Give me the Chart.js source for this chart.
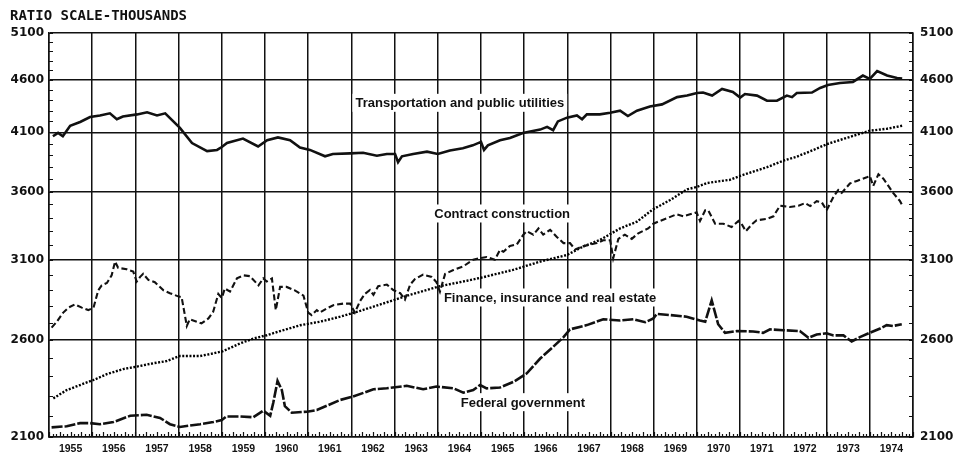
<!DOCTYPE html>
<html><head><meta charset="utf-8">
<script src="https://cdn.jsdelivr.net/npm/chart.js@4.4.1/dist/chart.umd.min.js"></script>
<style>html,body{margin:0;padding:0;background:#fff;}#wrap{width:959px;height:457px;}</style>
</head><body><div id="wrap"><canvas id="c" width="959" height="457"></canvas></div>
<script>
const yearLabels = ['1955','1956','1957','1958','1959','1960','1961','1962','1963','1964','1965','1966','1967','1968','1969','1970','1971','1972','1973','1974'];
const yTicks = [2100,2600,3100,3600,4100,4600,5100];
const yTickLabels = ['2100','2600','3100','3600','4100','4600','5100'];
const titleText = 'RATIO SCALE-THOUSANDS';
const seriesNames = ['Transportation and public utilities','Contract construction','Finance, insurance and real estate','Federal government'];

const transYears = [
 1955.09,1955.21,1955.32,1955.49,1955.72,1955.95,
 1956.18,1956.41,1956.57,1956.71,
 1957.04,1957.27,1957.50,1957.69,
 1958.03,1958.31,1958.66,1958.89,
 1959.00,1959.12,1959.49,1959.84,
 1960.05,1960.30,1960.58,1960.81,
 1961.04,1961.39,1961.57,1961.97,
 1962.27,1962.59,1962.82,
 1963.01,1963.08,1963.17,1963.43,1963.75,
 1964.00,1964.28,1964.58,1964.81,
 1965.00,1965.07,1965.16,1965.44,1965.67,1965.97,
 1966.37,1966.53,1966.67,1966.78,1966.99,
 1967.22,1967.34,1967.45,1967.75,1967.99,
 1968.22,1968.40,1968.61,1968.91,
 1969.19,1969.54,1969.77,
 1970.00,1970.14,1970.35,1970.58,1970.83,
 1971.00,1971.11,1971.39,1971.62,1971.85,
 1972.08,1972.20,1972.31,1972.66,1972.85,
 1973.03,1973.31,1973.61,1973.84,
 1974.00,1974.17,1974.40,1974.63,1974.75];
const transValues = [
 4065,4095,4065,4160,4195,4240,
 4255,4275,4220,4245,
 4265,4285,4255,4275,
 4140,4005,3935,3945,
 3970,4005,4045,3975,
 4030,4055,4030,3965,
 3945,3890,3910,3915,
 3920,3895,3910,
 3910,3840,3890,3910,3930,
 3910,3940,3960,3985,
 4015,3945,3985,4030,4050,4095,
 4125,4150,4120,4200,4235,
 4255,4220,4265,4265,4280,
 4300,4250,4300,4340,
 4360,4430,4445,
 4470,4475,4445,4510,4480,
 4425,4460,4445,4395,4395,
 4445,4430,4470,4475,4520,
 4550,4570,4580,4645,
 4610,4690,4645,4620,4615];

const consYears = [
 1955.06,1955.18,1955.33,1955.45,1955.60,1955.76,1955.91,
 1956.03,1956.14,1956.22,1956.34,1956.45,1956.53,1956.60,1956.80,1956.95,
 1957.03,1957.11,1957.18,1957.30,1957.45,1957.65,1957.80,1957.99,
 1958.07,1958.19,1958.26,1958.42,1958.53,1958.69,1958.80,1958.92,
 1959.00,1959.07,1959.19,1959.35,1959.50,1959.65,1959.85,1959.96,
 1960.04,1960.16,1960.25,1960.35,1960.50,1960.69,1960.89,
 1961.00,1961.08,1961.20,1961.27,1961.43,1961.58,1961.81,1961.97,
 1962.08,1962.20,1962.31,1962.43,1962.51,1962.62,1962.82,1962.97,
 1963.13,1963.24,1963.36,1963.47,1963.66,1963.86,1963.97,
 1964.05,1964.17,1964.36,1964.59,1964.82,1964.98,
 1965.13,1965.32,1965.44,1965.52,1965.67,1965.83,1965.98,
 1966.06,1966.21,1966.33,1966.44,1966.60,1966.75,1966.91,
 1967.06,1967.18,1967.33,1967.52,1967.68,1967.83,1967.99,
 1968.06,1968.18,1968.33,1968.49,1968.64,1968.87,1968.99,
 1969.14,1969.34,1969.53,1969.68,1969.84,1969.99,
 1970.07,1970.19,1970.26,1970.42,1970.61,1970.80,1970.96,
 1971.03,1971.13,1971.27,1971.38,1971.61,1971.77,1971.92,
 1972.00,1972.15,1972.35,1972.50,1972.62,1972.77,1972.89,
 1973.00,1973.16,1973.27,1973.35,1973.54,1973.70,1973.93,
 1974.00,1974.08,1974.20,1974.31,1974.43,1974.54,1974.70,1974.76];
const consValues = [
 2670,2705,2760,2790,2810,2790,2775,
 2790,2898,2930,2945,2995,3087,3045,3035,3020,
 2955,2985,3005,2965,2950,2898,2880,2860,
 2855,2680,2720,2705,2695,2725,2765,2875,
 2850,2910,2890,2975,2995,2990,2930,2975,
 2955,2975,2775,2920,2920,2898,2865,
 2760,2745,2775,2760,2785,2805,2815,2815,
 2760,2830,2875,2900,2870,2925,2935,2900,
 2880,2840,2935,2970,3000,2985,2950,
 2890,3005,3030,3055,3100,3110,
 3118,3100,3167,3155,3195,3205,3275,
 3300,3275,3320,3275,3310,3260,3215,
 3215,3170,3190,3205,3215,3235,3235,
 3110,3245,3275,3245,3285,3320,3355,
 3375,3400,3425,3410,3425,3440,
 3375,3455,3455,3355,3355,3330,3375,
 3355,3300,3350,3380,3390,3410,3490,
 3487,3480,3490,3510,3487,3525,3515,
 3455,3560,3612,3590,3665,3685,3715,
 3725,3645,3740,3705,3645,3590,3525,3487];

const finYears = [
 1955.10,1955.41,1955.72,1956.03,1956.34,1956.72,1957.03,1957.41,1957.72,1958.03,
 1958.50,1958.80,1959.03,1959.42,1959.73,1960.04,1960.35,1960.81,1961.27,1961.74,
 1962.20,1962.73,1963.36,1964.05,1964.68,1965.05,1965.74,1966.37,1966.99,1967.36,
 1967.75,1968.22,1968.61,1968.98,1969.38,1969.77,1970.00,1970.23,1970.53,1970.76,
 1971.00,1971.30,1971.62,1971.99,1972.31,1972.69,1973.01,1973.31,1973.61,1974.00,
 1974.40,1974.75];
const finValues = [
 2286,2328,2354,2380,2411,2438,2451,2469,2481,2509,
 2509,2523,2536,2579,2607,2626,2650,2684,2705,2735,
 2770,2815,2870,2925,2960,2983,3031,3087,3132,3190,
 3237,3320,3370,3462,3534,3618,3637,3668,3684,3694,
 3727,3761,3798,3852,3887,3944,3996,4032,4068,4115,
 4133,4160];

const fedYears = [
 1955.06,1955.41,1955.72,1955.95,1956.18,1956.49,1956.88,1957.26,1957.57,1957.80,
 1958.03,1958.50,1958.80,1959.00,1959.11,1959.42,1959.73,1959.96,1960.12,1960.19,
 1960.29,1960.39,1960.46,1960.62,1960.97,1961.20,1961.74,1962.04,1962.51,1962.82,
 1963.28,1963.66,1963.97,1964.36,1964.59,1964.82,1964.98,1965.13,1965.44,1965.75,
 1966.06,1966.37,1966.67,1966.91,1967.06,1967.45,1967.83,1968.22,1968.53,1968.80,
 1968.99,1969.07,1969.38,1969.76,1970.07,1970.19,1970.34,1970.49,1970.65,1970.92,
 1971.30,1971.53,1971.69,1972.00,1972.38,1972.58,1972.77,1973.00,1973.16,1973.39,
 1973.58,1973.77,1974.00,1974.24,1974.39,1974.54,1974.74];
const fedValues = [
 2145,2150,2165,2165,2160,2170,2200,2205,2190,2160,
 2147,2160,2170,2180,2197,2197,2193,2225,2200,2263,
 2375,2328,2247,2215,2220,2228,2278,2295,2332,2337,
 2350,2332,2346,2337,2315,2328,2354,2337,2341,2370,
 2415,2495,2560,2615,2660,2685,2720,2712,2720,2702,
 2725,2752,2745,2735,2712,2705,2835,2690,2640,2650,
 2648,2640,2660,2655,2650,2612,2630,2637,2625,2625,
 2590,2615,2640,2665,2685,2680,2690];

// label anchors (data coordinates)
const labelAnchors = [[1964.51,4375],[1965.49,3431],[1966.60,2853],[1965.97,2267]];

const INK = '#111';
const yearBounds = Array.from({length: yearLabels.length + 1}, (_, i) => 1955 + i);
const yearMids = yearLabels.map((_, i) => 1955.5 + i);
const pts = (xs, ys) => xs.map((x, i) => ({x, y: ys[i]}));

const minorTicks = {
  id: 'minorTicks',
  beforeDatasetsDraw(chart) {
    const {ctx, chartArea: a, scales: {x, y}} = chart;
    ctx.save();
    ctx.strokeStyle = INK; ctx.lineWidth = 1.2;
    ctx.beginPath();
    for (let v = yTicks[0]; v <= yTicks[yTicks.length - 1]; v += 100) {
      const py = Math.round(y.getPixelForValue(v)) + 0.5;
      ctx.moveTo(a.left, py); ctx.lineTo(a.left + 4, py);
      ctx.moveTo(a.right, py); ctx.lineTo(a.right - 4, py);
    }
    for (let m = 0; m <= yearLabels.length * 12; m++) {
      const px = Math.round(x.getPixelForValue(1955 + m / 12)) + 0.5;
      const len = (m % 3 === 0) ? 5 : 3;
      ctx.moveTo(px, a.bottom); ctx.lineTo(px, a.bottom - len);
    }
    ctx.stroke();
    ctx.font = 'bold 13px "Liberation Sans", Arial, sans-serif';
    ctx.textAlign = 'center'; ctx.textBaseline = 'middle';
    seriesNames.forEach((t, i) => {
      const px = x.getPixelForValue(labelAnchors[i][0]);
      const py = y.getPixelForValue(labelAnchors[i][1]);
      const w = ctx.measureText(t).width;
      ctx.fillStyle = '#fff';
      ctx.fillRect(px - w / 2 - 3, py - 9, w + 6, 18);
      ctx.fillStyle = INK;
      ctx.fillText(t, px, py + 1);
    });
    ctx.restore();
  },
  afterDraw(chart) {
    const ctx = chart.ctx;
    ctx.save();
    ctx.font = 'bold 14px "DejaVu Sans Mono", monospace';
    ctx.fillStyle = INK; ctx.textAlign = 'left'; ctx.textBaseline = 'alphabetic';
    ctx.fillText(titleText, 10, 20);
    ctx.restore();
  }
};

const tickFont = {family: '"DejaVu Sans", sans-serif', size: 12, weight: 'bold'};

new Chart(document.getElementById('c'), {
  type: 'line',
  data: {
    datasets: [
      {label: seriesNames[0], data: pts(transYears, transValues), borderColor: INK, borderWidth: 2.6, pointRadius: 0, tension: 0, xAxisID: 'x', yAxisID: 'y'},
      {label: seriesNames[1], data: pts(consYears, consValues), borderColor: INK, borderWidth: 2.1, borderDash: [6, 3], pointRadius: 0, tension: 0, xAxisID: 'x', yAxisID: 'y'},
      {label: seriesNames[2], data: pts(finYears, finValues), borderColor: '#000', borderWidth: 2.4, borderDash: [2, 1.6], pointRadius: 0, tension: 0, xAxisID: 'x', yAxisID: 'y'},
      {label: seriesNames[3], data: pts(fedYears, fedValues), borderColor: INK, borderWidth: 2.6, borderDash: [11, 2], pointRadius: 0, tension: 0, xAxisID: 'x', yAxisID: 'y'}
    ]
  },
  options: {
    responsive: false, animation: false, devicePixelRatio: 1,
    layout: {padding: {top: 33, left: 0, right: 0, bottom: 0}},
    plugins: {legend: {display: false}, tooltip: {enabled: false}, title: {display: false}},
    scales: {
      x: {type: 'linear', min: 1955, max: 1975, position: 'bottom',
          afterBuildTicks: s => { s.ticks = yearBounds.map(v => ({value: v})); },
          ticks: {display: false},
          grid: {color: INK, lineWidth: 1.5, drawTicks: false},
          border: {display: true, color: INK, width: 1.5},
          afterFit: s => { s.height = 0; }},
      xl: {type: 'linear', min: 1955, max: 1975, position: 'bottom',
          afterBuildTicks: s => { s.ticks = yearMids.map(v => ({value: v})); },
          ticks: {autoSkip: false, maxRotation: 0, padding: 6, color: INK,
                  font: {family: '"Liberation Sans", Arial, sans-serif', size: 10.5, weight: 'bold'},
                  callback: (v, i) => yearLabels[i]},
          grid: {display: false, drawTicks: false},
          border: {display: false},
          afterFit: s => { s.height = 20; }},
      y: {type: 'logarithmic', min: 2100, max: 5100, position: 'left',
          afterBuildTicks: s => { s.ticks = yTicks.map(v => ({value: v})); },
          ticks: {padding: 5, color: INK, font: tickFont, callback: (v, i) => yTickLabels[i]},
          grid: {color: INK, lineWidth: 1.5, drawTicks: false},
          border: {display: true, color: INK, width: 1.5},
          afterFit: s => { s.width = 49; }},
      y2: {type: 'logarithmic', min: 2100, max: 5100, position: 'right',
          afterBuildTicks: s => { s.ticks = yTicks.map(v => ({value: v})); },
          ticks: {padding: 7, color: INK, font: tickFont, callback: (v, i) => yTickLabels[i]},
          grid: {display: false, drawTicks: false},
          border: {display: true, color: INK, width: 1.5},
          afterFit: s => { s.width = 46; }}
    }
  },
  plugins: [minorTicks]
});
</script>
</body></html>
